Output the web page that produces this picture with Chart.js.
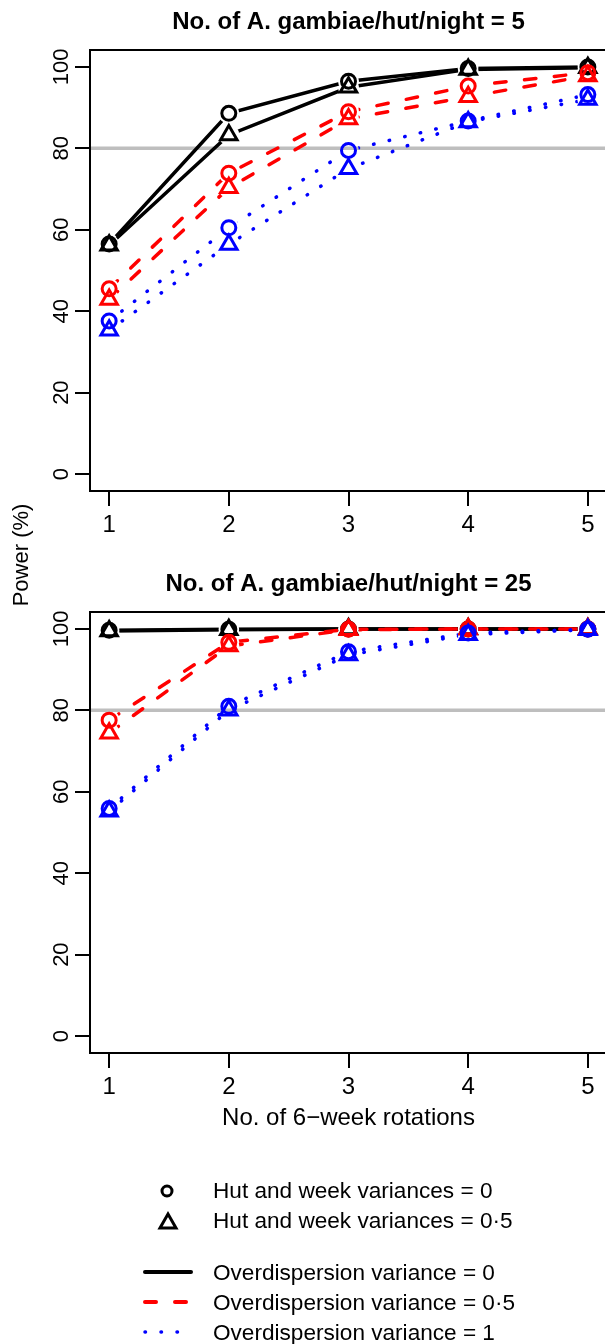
<!DOCTYPE html>
<html>
<head>
<meta charset="utf-8">
<script src="https://cdn.jsdelivr.net/npm/chart.js@4/dist/chart.umd.min.js"></script>
<style>
  html, body { margin: 0; padding: 0; background: #fff; }
  body { width: 605px; height: 1344px; overflow: hidden; position: relative; }
  canvas { position: absolute; left: 0; }
  #top { top: 0; }
  #bottom { top: 560px; }
  svg { position: absolute; left: 0; top: 0; }
</style>
</head>
<body>
<canvas id="top" width="620" height="545"></canvas>
<canvas id="bottom" width="620" height="580"></canvas>
<svg width="605" height="1344" font-family="Liberation Sans, Arial, sans-serif">
  <text x="28" y="555" font-size="22" text-anchor="middle" transform="rotate(-90 28 555)">Power (%)</text>
  <g font-size="22.6">
    <circle cx="167" cy="1191" r="5" fill="none" stroke="#000" stroke-width="3"/>
    <polygon points="168,1214 176,1228 160,1228" fill="none" stroke="#000" stroke-width="3"/>
    <text x="213" y="1198">Hut and week variances = 0</text>
    <text x="213" y="1228">Hut and week variances = 0·5</text>
    <line x1="145" y1="1272" x2="191" y2="1272" stroke="#000" stroke-width="4" stroke-linecap="round"/>
    <line x1="145" y1="1302" x2="190" y2="1302" stroke="#f00" stroke-width="4" stroke-linecap="round" stroke-dasharray="11 19"/>
    <line x1="145" y1="1332" x2="180" y2="1332" stroke="#00f" stroke-width="3.5" stroke-linecap="round" stroke-dasharray="0.5 15.5"/>
    <text x="213" y="1280">Overdispersion variance = 0</text>
    <text x="213" y="1310">Overdispersion variance = 0·5</text>
    <text x="213" y="1340">Overdispersion variance = 1</text>
  </g>
</svg>
<script>
// x: number of 6-week rotations
const rotations = [1, 2, 3, 4, 5];
const yTicks = [0, 20, 40, 60, 80, 100];
const targetPower = 80;

// 5 A. gambiae / hut / night  (od = overdispersion var, hw = hut & week var)
const p5_od0_hw0   = [56.5, 88.6, 96.5, 99.6, 100];
const p5_od0_hw05  = [56.2, 83.3, 95.0, 99.4, 99.8];
const p5_od05_hw0  = [45.5, 73.9, 89.0, 95.3, 98.6];
const p5_od05_hw05 = [42.9, 70.3, 87.2, 92.7, 97.8];
const p5_od1_hw0   = [37.6, 60.5, 79.5, 86.7, 93.2];
const p5_od1_hw05  = [35.3, 56.4, 75.0, 86.5, 92.0];

// 25 A. gambiae / hut / night
const p25_od0_hw0   = [99.7, 99.9, 100, 100, 100];
const p25_od0_hw05  = [99.5, 99.8, 100, 100, 100];
const p25_od05_hw0  = [77.6, 96.7, 99.9, 100, 100];
const p25_od05_hw05 = [74.4, 95.8, 99.8, 100, 100];
const p25_od1_hw0   = [55.9, 81.0, 94.4, 99.0, 99.9];
const p25_od1_hw05  = [55.2, 80.0, 93.6, 98.6, 99.8];

const X_MIN = 0.84, X_MAX = 5.16, Y_MIN = -4.16, Y_MAX = 104.16;
const GAP = 10.5;
const FONT = 'Liberation Sans, Arial, sans-serif';

const lineStyles = [
  { color: '#000000', dash: [] },
  { color: '#ff0000', dash: [11.5, 18.5] },
  { color: '#0000ff', dash: [0.5, 15.5] }
];

function buildDatasets(groups) {
  const sets = [{
    data: [{ x: X_MIN, y: targetPower }, { x: X_MAX, y: targetPower }],
    showLine: true, borderColor: '#bebebe', borderWidth: 3.5, pointRadius: 0, order: 100
  }];
  groups.forEach((pair, i) => {
    const st = lineStyles[i];
    pair.forEach((vals, j) => {
      const pts = rotations.map((x, k) => ({ x: x, y: vals[k] }));
      sets.push({
        data: pts, showLine: true, gapped: true, pointRadius: 0,
        borderColor: st.color, borderWidth: 3.5, borderDash: st.dash,
        borderCapStyle: 'round', order: 10 * (3 - i) + 1
      });
      sets.push({
        data: pts, showLine: false,
        pointStyle: j === 0 ? 'circle' : 'triangle',
        pointRadius: j === 0 ? 7 : 9.5,
        pointBorderWidth: 3, pointBorderColor: st.color,
        pointBackgroundColor: 'rgba(0,0,0,0)', order: 10 * (3 - i)
      });
    });
  });
  return sets;
}

// leave a gap round each point, like R's type = "b"
const gapPlugin = {
  id: 'gaps',
  beforeDatasetDraw(chart, args) {
    if (!chart.data.datasets[args.index].gapped) return;
    const ctx = chart.ctx;
    ctx.save();
    ctx.beginPath();
    ctx.rect(0, 0, chart.width, chart.height);
    args.meta.data.forEach(p => {
      ctx.moveTo(p.x + GAP, p.y);
      ctx.arc(p.x, p.y, GAP, 0, Math.PI * 2);
    });
    ctx.clip('evenodd');
  },
  afterDatasetDraw(chart, args) {
    if (chart.data.datasets[args.index].gapped) chart.ctx.restore();
  }
};

const framePlugin = {
  id: 'frame',
  afterDraw(chart) {
    const ctx = chart.ctx, a = chart.chartArea;
    const o = chart.options.plugins.frame;
    ctx.save();
    ctx.strokeStyle = '#000';
    ctx.lineWidth = 2;
    ctx.strokeRect(a.left, a.top, a.right - a.left, a.bottom - a.top);
    ctx.fillStyle = '#000';
    ctx.textAlign = 'center';
    ctx.textBaseline = 'alphabetic';
    const cx = (a.left + a.right) / 2;
    ctx.font = 'bold 24px ' + FONT;
    ctx.fillText(o.title, cx, a.top - 21);
    ctx.font = '24px ' + FONT;
    const xs = chart.scales.x;
    rotations.forEach(v => ctx.fillText(String(v), xs.getPixelForValue(v), a.bottom + 41));
    if (o.xTitle) ctx.fillText(o.xTitle, cx, a.bottom + 72);
    const ys = chart.scales.y;
    ctx.font = '22px ' + FONT;
    yTicks.forEach(v => {
      ctx.save();
      ctx.translate(a.left - 22, ys.getPixelForValue(v));
      ctx.rotate(-Math.PI / 2);
      ctx.fillText(String(v), 0, 0);
      ctx.restore();
    });
    ctx.restore();
  }
};

function makePanel(id, groups, pad, title, xTitle) {
  const axisGrid = { drawOnChartArea: false, drawTicks: true, tickLength: 15, lineWidth: 2, color: '#000' };
  return new Chart(document.getElementById(id), {
    type: 'scatter',
    data: { datasets: buildDatasets(groups) },
    options: {
      responsive: false,
      animation: false,
      devicePixelRatio: 1,
      layout: { padding: pad },
      plugins: {
        legend: { display: false },
        tooltip: { enabled: false },
        frame: { title: title, xTitle: xTitle }
      },
      scales: {
        x: {
          type: 'linear', min: X_MIN, max: X_MAX,
          afterBuildTicks: s => { s.ticks = rotations.map(v => ({ value: v })); },
          afterFit: s => { s.height = 0; },
          ticks: { display: false },
          grid: axisGrid,
          border: { display: false }
        },
        y: {
          type: 'linear', min: Y_MIN, max: Y_MAX,
          afterBuildTicks: s => { s.ticks = yTicks.map(v => ({ value: v })); },
          afterFit: s => { s.width = 0; },
          ticks: { display: false },
          grid: axisGrid,
          border: { display: false }
        }
      }
    },
    plugins: [gapPlugin, framePlugin]
  });
}

makePanel('top',
  [[p5_od0_hw0, p5_od0_hw05], [p5_od05_hw0, p5_od05_hw05], [p5_od1_hw0, p5_od1_hw05]],
  { left: 90, top: 50, right: 13, bottom: 54 },
  'No. of A. gambiae/hut/night = 5', null);

makePanel('bottom',
  [[p25_od0_hw0, p25_od0_hw05], [p25_od05_hw0, p25_od05_hw05], [p25_od1_hw0, p25_od1_hw05]],
  { left: 90, top: 52, right: 13, bottom: 87 },
  'No. of A. gambiae/hut/night = 25', 'No. of 6\u2212week rotations');
</script>
</body>
</html>
